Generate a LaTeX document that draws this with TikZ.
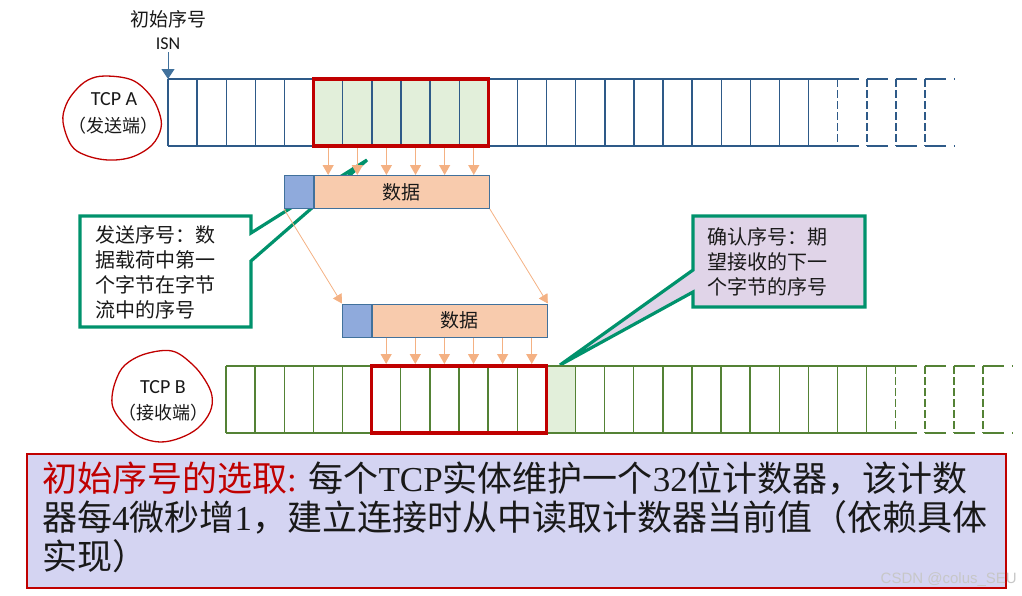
\documentclass[tikz,border=0pt]{standalone}
\usepackage{fontspec}
\setmainfont{Liberation Serif}
\newfontfamily\cjk{Noto Sans CJK SC}
\newfontfamily\calib{Carlito}
\newfontfamily\arialf{Liberation Sans}
\usetikzlibrary{arrows.meta}
\definecolor{barblue}{RGB}{46,90,136}
\definecolor{bargreen}{RGB}{84,130,53}
\definecolor{boxred}{RGB}{192,0,0}
\definecolor{lightgreen}{RGB}{226,239,218}
\definecolor{arroworange}{RGB}{244,177,131}
\definecolor{pktorange}{RGB}{248,203,173}
\definecolor{pktblue}{RGB}{143,170,220}
\definecolor{pktborder}{RGB}{65,113,156}
\definecolor{calloutgreen}{RGB}{0,146,108}
\definecolor{calloutpurple}{RGB}{224,212,232}
\definecolor{notefill}{RGB}{212,212,242}
\definecolor{txt}{RGB}{25,25,25}
\tikzset{
  barA/.style={draw=barblue, line width=1.4pt},
  barB/.style={draw=bargreen, line width=1.4pt},
  redbox/.style={draw=boxred, line width=3.5pt},
  oarrow/.style={draw=arroworange, line width=1.2pt, -{Triangle[width=11pt,length=10pt]}},
  othin/.style={draw=arroworange, line width=0.8pt, -{Triangle[width=10pt,length=9pt]}},
  hdrblk/.style={draw=pktborder, fill=pktblue, line width=1pt, minimum width=29.12pt, minimum height=33pt, inner sep=0pt},
  datablk/.style={draw=pktborder, fill=pktorange, line width=1pt, minimum width=174.72pt, minimum height=33pt, inner sep=0pt, font=\cjk\fontsize{19}{22}\selectfont, text=txt},
  callout/.style={draw=calloutgreen, line width=3.2pt, line join=miter},
  ctext/.style={anchor=base west, inner sep=0pt, font=\cjk\fontsize{20}{25}\selectfont, text=txt},
  tcplbl/.style={inner sep=0pt, font=\calib\fontsize{20}{24}\selectfont, text=txt},
  tcpcn/.style={inner sep=0pt, font=\cjk\fontsize{18}{22}\selectfont, text=txt},
  wobble/.style={draw=boxred, line width=1.3pt},
  noteline/.style={anchor=base west, inner sep=0pt, font=\fontsize{35}{39}\selectfont, text=txt}
}
\begin{document}
\begin{tikzpicture}[x=1pt,y=-1pt]
\useasboundingbox (0,0) rectangle (1022,595);
\def\cw{29.12}
% ---------- callout 1 (behind packet) ----------
\draw[callout, fill=white] (80,216) -- (251,216) -- (251,233) -- (367,160) -- (251,261) -- (251,327) -- (80,327) -- cycle;
\node[ctext] (c1a) at (95,242) {发送序号：数};
\node[ctext] (c1b) at (95,267) {据载荷中第一};
\node[ctext] (c1c) at (95,292) {个字节在字节};
\node[ctext] (c1d) at (95,317) {流中的序号};
% ---------- callout 2 ----------
\draw[callout, fill=calloutpurple] (693,216) -- (865,216) -- (865,307) -- (693,307) -- (693,292) -- (560,365) -- (693,270) -- cycle;
\node[ctext] (c2a) at (707,244) {确认序号：期};
\node[ctext] (c2b) at (707,269) {望接收的下一};
\node[ctext] (c2c) at (707,294) {个字节的序号};
% ---------- TCP A bar ----------
\fill[lightgreen] ({168+5*\cw},79) rectangle ({168+11*\cw},146);
\draw[barA] (168,79) -- ({168+23*\cw},79);
\draw[barA] (168,146) -- ({168+23*\cw},146);
\draw[barA, dash pattern=on 21pt off 8pt] ({168+23*\cw},79) -- (955,79);
\draw[barA, dash pattern=on 21pt off 8pt] ({168+23*\cw},146) -- (955,146);
\foreach \k in {0,...,22} \draw[barA] ({168+\k*\cw},79) -- ++(0,67);
\foreach \k in {23,...,26} \draw[barA, dash pattern=on 8pt off 3pt] ({168+\k*\cw},79) -- ++(0,67);
\draw[redbox] ({168+5*\cw},79) rectangle ({168+11*\cw},146);
% ---------- TCP B bar ----------
\fill[lightgreen] ({226+11*\cw},366) rectangle ({226+12*\cw},433);
\draw[barB] (226,366) -- ({226+23*\cw},366);
\draw[barB] (226,433) -- ({226+23*\cw},433);
\draw[barB, dash pattern=on 21pt off 8pt] ({226+23*\cw},366) -- (1013,366);
\draw[barB, dash pattern=on 21pt off 8pt] ({226+23*\cw},433) -- (1013,433);
\foreach \k in {0,...,22} \draw[barB] ({226+\k*\cw},366) -- ++(0,67);
\foreach \k in {23,...,26} \draw[barB, dash pattern=on 8pt off 3pt] ({226+\k*\cw},366) -- ++(0,67);
\draw[redbox] ({226+5*\cw},366) rectangle ({226+11*\cw},433);
% ---------- packets ----------
\node[hdrblk] (h1) at ({168+4.5*\cw},192) {};
\node[datablk, anchor=west] (d1) at (h1.east) {数据};
\node[hdrblk] (h2) at ({226+4.5*\cw},320.5) {};
\node[datablk, anchor=west] (d2) at (h2.east) {数据};
% arrows from A to packet 1
\foreach \k in {5,...,10} {
  \coordinate (a\k) at ({168+(\k+0.5)*\cw},148);
  \draw[oarrow] (a\k) -- (a\k |- d1.north);
}
% arrows from packet 2 to B
\foreach \k in {5,...,10} {
  \coordinate (b\k) at ({226+(\k+0.5)*\cw},364);
  \draw[oarrow] (b\k |- d2.south) -- (b\k);
}
\draw[othin] (h1.south west) -- (h2.north west);
\draw[othin] (d1.south east) -- (d2.north east);
% ---------- ISN ----------
\node[inner sep=0pt, font=\cjk\fontsize{19}{22}\selectfont, text=txt] (isncn) at (168,19) {初始序号};
\node[inner sep=0pt, font=\calib\fontsize{18}{22}\selectfont, text=txt] (isn) at (168,44) {ISN};
\coordinate (isnA) at (168,79);
\draw[draw=pktborder, line width=1pt, -{Triangle[width=13pt,length=10pt]}] (isn.south) ++(0,2) -- (isnA);
% ---------- TCP A / B labels ----------
\draw[wobble] plot[smooth cycle, tension=0.6] coordinates {(105,76) (132,80) (150,95) (159,112) (161,128) (152,145) (132,157) (108,160) (85,155) (71,145) (63,122) (66,105) (75,91) (88,80)};
\node[tcplbl] (tcpa) at (114,99) {TCP A};
\node[tcpcn] (tcpacn) at (113,126) {（发送端）};
\draw[wobble] plot[smooth cycle, tension=0.6] coordinates {(172,351) (192,364) (205,380) (212,396) (210,412) (198,428) (180,438) (160,442) (140,437) (125,425) (114,410) (112,397) (116,380) (125,365) (145,354)};
\node[tcplbl] (tcpb) at (163,387) {TCP B};
\node[tcpcn] (tcpbcn) at (163,413) {（接收端）};
% ---------- bottom note ----------
\draw[draw=boxred, line width=2pt, fill=notefill] (27,454) rectangle (1006,588);
\node[noteline] (n1) at (42,491) {\textcolor{boxred}{\cjk 初始序号的选取}\textcolor{boxred}{:} {\cjk 每个}TCP{\cjk 实体维护一个}32{\cjk 位计数器，该计数}};
\node[noteline] (n2) at (42,530) {{\cjk 器每}4{\cjk 微秒增}1{\cjk ，建立连接时从中读取计数器当前值（依赖具体}};
\node[noteline] (n3) at (42,569) {{\cjk 实现）}};
\node[anchor=base east, inner sep=0pt, font=\arialf\fontsize{15}{18}\selectfont, text=black!22] (wm) at (1017,583) {CSDN @colus\_SEU};
\end{tikzpicture}
\end{document}
